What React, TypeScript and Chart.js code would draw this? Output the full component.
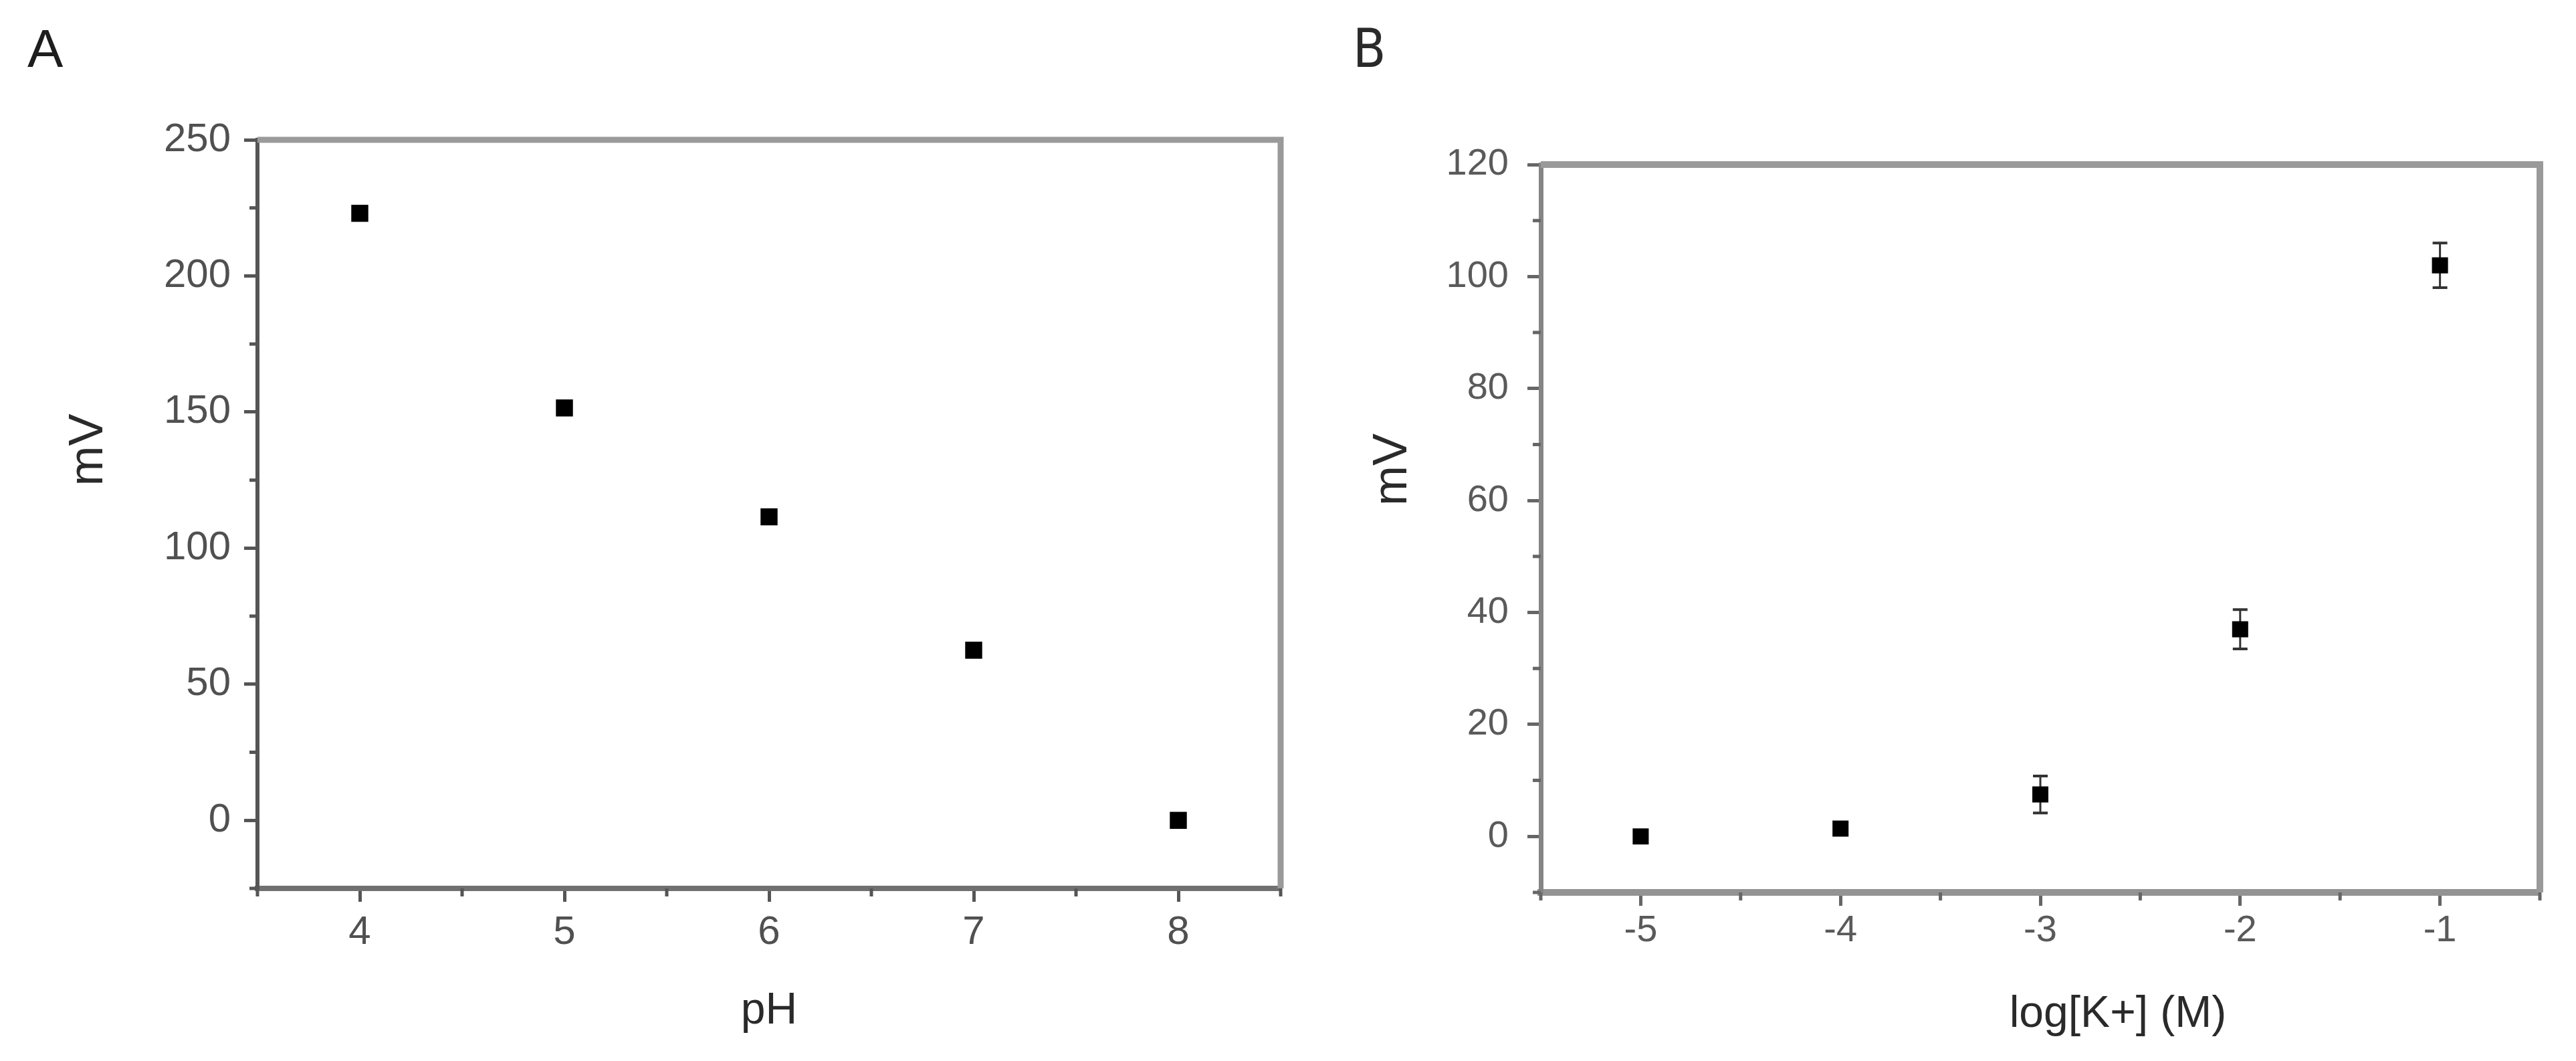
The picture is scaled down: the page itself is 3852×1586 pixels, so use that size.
import React, { useEffect, useRef } from 'react';
import { Chart, registerables } from 'chart.js';

Chart.register(...registerables);

// ---- data ----
const PH_VALUES = [4, 5, 6, 7, 8];
const PH_MV = [223, 151.5, 111.5, 62.5, 0];

const LOGK_VALUES = [-5, -4, -3, -2, -1];
const LOGK_MV = [0, 1.4, 7.5, 37, 102];
const LOGK_ERR = [1, 1, 3.3, 3.5, 4];

const A_X_TICKS = [4, 5, 6, 7, 8];
const A_Y_TICKS = [0, 50, 100, 150, 200, 250];
const B_X_TICKS = [-5, -4, -3, -2, -1];
const B_Y_TICKS = [0, 20, 40, 60, 80, 100, 120];

const NARROW = '"Liberation Sans Narrow", "Arial Narrow", "DejaVu Sans Condensed", "Liberation Sans", sans-serif';
const REGULAR = '"Liberation Sans", Arial, sans-serif';

type Panel = {
  letter: string;
  letterFont: string;
  letterColor: string;
  letterX: number;
  letterY: number;
  xTitle: string;
  yTitle: string;
  xTitleDx: number;
  xTitleDy: number;
  yTitleDx: number;
  yTitleDy: number;
  xs: number[];
  ys: number[];
  errs: number[] | null;
  xMin: number; xMax: number; yMin: number; yMax: number;
  xTicks: number[]; yTicks: number[];
  width: number; height: number;
  pad: { left: number; top: number; right: number; bottom: number };
  yAxisWidth: number; xAxisHeight: number;
  leftColor: string; leftWidth: number;
  bottomColor: string; bottomWidth: number;
  frameColor: string; frameWidth: number;
  tickColor: string;
  labelColor: string;
  labelSize: number;
  yPad: number; xPad: number;
  pointRadius: number;
};

const minorValues = (ticks: number[], min: number, max: number) => {
  const step = ticks[1] - ticks[0];
  const out: number[] = [];
  for (let i = -1; i < ticks.length; i++) {
    const v = (i < 0 ? ticks[0] - step : ticks[i]) + step / 2;
    if (v >= min - 1e-9 && v <= max + 1e-9) out.push(v);
  }
  return out;
};

function makeChart(canvas: HTMLCanvasElement, p: Panel) {
  const decor = {
    id: 'decor' + p.letter,
    beforeDatasetsDraw(chart: any) {
      if (!p.errs) return;
      const ctx = chart.ctx;
      const xs = chart.scales.x;
      const ys = chart.scales.y;
      ctx.save();
      ctx.strokeStyle = '#333';
      p.xs.forEach((xv, i) => {
        const e = p.errs![i];
        const px = xs.getPixelForValue(xv);
        const top = ys.getPixelForValue(p.ys[i] + e);
        const bot = ys.getPixelForValue(p.ys[i] - e);
        ctx.lineWidth = 3;
        ctx.beginPath();
        ctx.moveTo(px, top);
        ctx.lineTo(px, bot);
        ctx.stroke();
        ctx.lineWidth = 4;
        ctx.beginPath();
        ctx.moveTo(px - 11, top);
        ctx.lineTo(px + 11, top);
        ctx.moveTo(px - 11, bot);
        ctx.lineTo(px + 11, bot);
        ctx.stroke();
      });
      ctx.restore();
    },
    afterDraw(chart: any) {
      const ctx = chart.ctx;
      const a = chart.chartArea;
      const xs = chart.scales.x;
      const ys = chart.scales.y;
      ctx.save();
      ctx.strokeStyle = p.frameColor;
      ctx.lineWidth = p.frameWidth;
      ctx.lineJoin = 'miter';
      ctx.beginPath();
      ctx.moveTo(a.left, a.top);
      ctx.lineTo(a.right, a.top);
      ctx.lineTo(a.right, a.bottom);
      ctx.stroke();
      ctx.strokeStyle = p.tickColor;
      ctx.lineWidth = 5;
      ctx.beginPath();
      minorValues(p.xTicks, p.xMin, p.xMax).forEach((v) => {
        const px = xs.getPixelForValue(v);
        ctx.moveTo(px, a.bottom);
        ctx.lineTo(px, a.bottom + 12);
      });
      minorValues(p.yTicks, p.yMin, p.yMax).forEach((v) => {
        const py = ys.getPixelForValue(v);
        ctx.moveTo(a.left, py);
        ctx.lineTo(a.left - 12, py);
      });
      ctx.stroke();
      ctx.fillStyle = '#2a2a2a';
      ctx.font = `66px ${REGULAR}`;
      ctx.textAlign = 'center';
      ctx.textBaseline = 'alphabetic';
      ctx.fillText(p.xTitle, (a.left + a.right) / 2 + p.xTitleDx, a.bottom + p.xTitleDy);
      ctx.save();
      ctx.translate(a.left - p.yTitleDx, (a.top + a.bottom) / 2 + p.yTitleDy);
      ctx.rotate(-Math.PI / 2);
      ctx.font = `72px ${REGULAR}`;
      ctx.fillText(p.yTitle, 0, 0);
      ctx.restore();
      ctx.fillStyle = p.letterColor;
      ctx.font = p.letterFont;
      ctx.textAlign = 'left';
      ctx.fillText(p.letter, p.letterX, p.letterY);
      ctx.restore();
    },
  };

  const tickFont = { family: REGULAR, size: p.labelSize };

  return new Chart(canvas, {
    type: 'scatter',
    data: {
      datasets: [
        {
          data: p.xs.map((x, i) => ({ x, y: p.ys[i] })),
          pointStyle: 'rect',
          pointRadius: p.pointRadius,
          pointHoverRadius: p.pointRadius,
          backgroundColor: '#000',
          borderColor: '#000',
          borderWidth: 0,
          showLine: false,
        },
      ],
    },
    options: {
      responsive: false,
      maintainAspectRatio: false,
      animation: false,
      devicePixelRatio: 1,
      events: [],
      layout: { padding: p.pad },
      plugins: {
        legend: { display: false },
        tooltip: { enabled: false },
        title: { display: false },
      },
      scales: {
        x: {
          type: 'linear',
          position: 'bottom',
          min: p.xMin,
          max: p.xMax,
          afterBuildTicks: (s: any) => {
            s.ticks = p.xTicks.map((v) => ({ value: v }));
          },
          afterFit: (s: any) => {
            s.height = p.xAxisHeight;
          },
          grid: {
            drawOnChartArea: false,
            drawTicks: true,
            tickLength: 20,
            tickWidth: 5,
            tickColor: p.tickColor,
          },
          border: { display: true, color: p.bottomColor, width: p.bottomWidth },
          ticks: {
            font: tickFont,
            color: p.labelColor,
            padding: p.xPad,
            autoSkip: false,
            maxRotation: 0,
            callback: (v: any) => String(v),
          },
        },
        y: {
          type: 'linear',
          position: 'left',
          min: p.yMin,
          max: p.yMax,
          afterBuildTicks: (s: any) => {
            s.ticks = p.yTicks.map((v) => ({ value: v }));
          },
          afterFit: (s: any) => {
            s.width = p.yAxisWidth;
          },
          grid: {
            drawOnChartArea: false,
            drawTicks: true,
            tickLength: 20,
            tickWidth: 5,
            tickColor: p.tickColor,
          },
          border: { display: true, color: p.leftColor, width: p.leftWidth },
          ticks: {
            font: tickFont,
            color: p.labelColor,
            padding: p.yPad,
            autoSkip: false,
            callback: (v: any) => String(v),
          },
        },
      },
    },
    plugins: [decor],
  } as any);
}

const PANEL_A: Panel = {
  letter: 'A',
  letterFont: `80px ${REGULAR}`,
  letterColor: '#1e1e1e',
  letterX: 41,
  letterY: 100,
  xTitle: 'pH',
  yTitle: 'mV',
  xTitleDx: 0,
  xTitleDy: 202,
  yTitleDx: 232,
  yTitleDy: -96,
  xs: PH_VALUES,
  ys: PH_MV,
  errs: null,
  xMin: 3.5, xMax: 8.5, yMin: -25, yMax: 250,
  xTicks: A_X_TICKS, yTicks: A_Y_TICKS,
  width: 1960, height: 1586,
  pad: { left: 0, top: 209, right: 45, bottom: 138 },
  yAxisWidth: 385, xAxisHeight: 120,
  leftColor: '#555', leftWidth: 6,
  bottomColor: '#707070', bottomWidth: 8,
  frameColor: '#9a9a9a', frameWidth: 9,
  tickColor: '#555',
  labelColor: '#505050',
  labelSize: 60,
  yPad: 20, xPad: 10,
  pointRadius: 18,
};

const PANEL_B: Panel = {
  letter: 'B',
  letterFont: `80px ${NARROW}`,
  letterColor: '#2a2a2a',
  letterX: 63,
  letterY: 100,
  xTitle: 'log[K+] (M)',
  yTitle: 'mV',
  xTitleDx: 116,
  xTitleDy: 201,
  yTitleDx: 201,
  yTitleDy: -88,
  xs: LOGK_VALUES,
  ys: LOGK_MV,
  errs: LOGK_ERR,
  xMin: -5.5, xMax: -0.5, yMin: -10, yMax: 120,
  xTicks: B_X_TICKS, yTicks: B_Y_TICKS,
  width: 1892, height: 1586,
  pad: { left: 0, top: 246, right: 54, bottom: 132 },
  yAxisWidth: 344, xAxisHeight: 120,
  leftColor: '#858585', leftWidth: 7,
  bottomColor: '#939393', bottomWidth: 10,
  frameColor: '#9a9a9a', frameWidth: 10,
  tickColor: '#666',
  labelColor: '#5a5a5a',
  labelSize: 56,
  yPad: 28, xPad: 4,
  pointRadius: 17,
};

export default function App() {
  const refA = useRef<HTMLCanvasElement>(null);
  const refB = useRef<HTMLCanvasElement>(null);

  useEffect(() => {
    const ca = makeChart(refA.current!, PANEL_A);
    const cb = makeChart(refB.current!, PANEL_B);
    return () => {
      ca.destroy();
      cb.destroy();
    };
  }, []);

  return (
    <div
      style={{
        position: 'absolute',
        left: 0,
        top: 0,
        width: 3852,
        height: 1586,
        background: '#fff',
        overflow: 'hidden',
      }}
    >
      <canvas
        ref={refA}
        width={PANEL_A.width}
        height={PANEL_A.height}
        style={{ position: 'absolute', left: 0, top: 0, width: PANEL_A.width, height: PANEL_A.height }}
      />
      <canvas
        ref={refB}
        width={PANEL_B.width}
        height={PANEL_B.height}
        style={{ position: 'absolute', left: 1960, top: 0, width: PANEL_B.width, height: PANEL_B.height }}
      />
    </div>
  );
}
